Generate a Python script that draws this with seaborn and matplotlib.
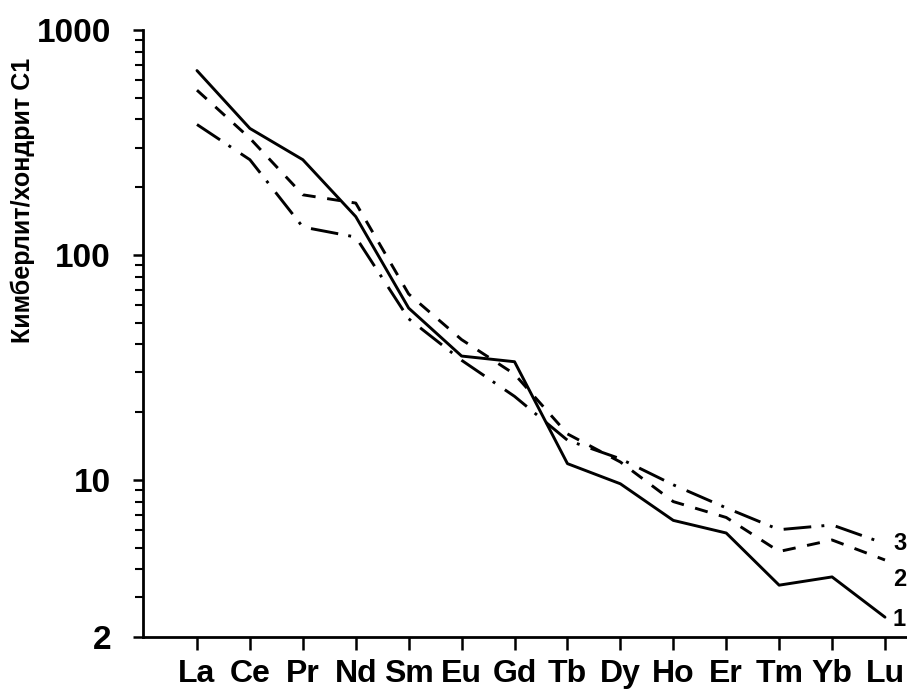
import numpy as np
import matplotlib
matplotlib.use("Agg")
import matplotlib.pyplot as plt
import seaborn as sns

# --- данные (кимберлит / хондрит C1) ---
elements = ["La", "Ce", "Pr", "Nd", "Sm", "Eu", "Gd", "Tb", "Dy", "Ho", "Er", "Tm", "Yb", "Lu"]
series_1 = [660, 365, 265, 148, 58, 35.5, 33.5, 11.8, 9.6, 6.6, 5.8, 3.4, 3.7, 2.45]
series_2 = [540, 330, 185, 170, 67, 42, 29.5, 16, 12, 8.0, 6.8, 4.8, 5.4, 4.4]
series_3 = [380, 265, 133, 120, 52, 34, 23.5, 15, 12.4, 9.5, 7.5, 6.0, 6.3, 5.2]
line_labels = ["1", "2", "3"]
label_y = [2.4, 3.6, 5.2]   # где стоят номера кривых справа
y_ticks = [2, 10, 100, 1000]

sns.set_style("ticks")
plt.rcParams['font.family'] = ['Liberation Sans', 'DejaVu Sans']
for key in ["text.color", "axes.labelcolor", "xtick.color", "ytick.color", "axes.edgecolor"]:
    plt.rcParams[key] = "black"

fig = plt.figure(figsize=(9.07, 6.91), dpi=100)
ax = fig.add_axes([143 / 907, 54 / 691, (907 - 143) / 907, (637 - 30) / 691])

x = np.arange(len(elements))
styles = [
    dict(linestyle="-"),
    dict(dashes=(4.5, 4)),
    dict(dashes=(9.5, 3.5, 1, 4)),
]
for vals, st in zip([series_1, series_2, series_3], styles):
    sns.lineplot(x=x, y=vals, ax=ax, color="black", linewidth=2.1, **st)

ax.set_yscale("log")
ax.set_ylim(2, 1000)
ax.set_xlim(-1.02, 13 + 22 / 52.9)
ax.set_yticks(y_ticks)
ax.set_yticklabels([str(t) for t in y_ticks])
ax.set_xticks(x)
ax.set_xticklabels(elements)

ax.tick_params(axis="y", which="major", direction="out", length=7, width=1.8,
               labelsize=24, pad=16)
ax.tick_params(axis="y", which="minor", direction="out", length=6, width=1.5)
ax.tick_params(axis="x", direction="out", length=9, width=1.8, labelsize=23, pad=7)
for lab in ax.get_xticklabels() + ax.get_yticklabels():
    lab.set_fontweight("bold")

sns.despine(ax=ax, top=True, right=True)
for sp in ["left", "bottom"]:
    ax.spines[sp].set_linewidth(2)

ax.set_ylabel("Кимберлит/хондрит С1", fontsize=18, fontweight="bold")
ax.yaxis.set_label_coords(-0.141, 0.72)

# подписи линий справа
for ly, lab in zip(label_y, line_labels):
    ax.text(13.15, ly, lab, fontsize=17, fontweight="bold",
            ha="left", va="center", clip_on=False)

fig.savefig("out.png", dpi=100)
